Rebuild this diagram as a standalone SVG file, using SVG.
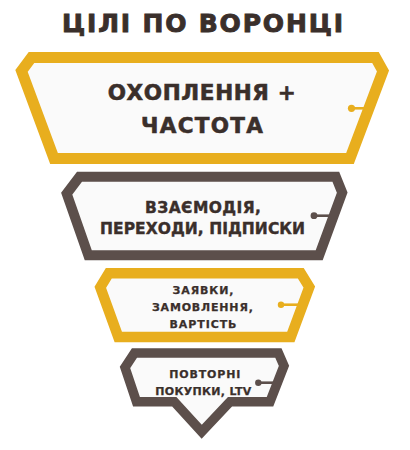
<svg xmlns="http://www.w3.org/2000/svg" width="410" height="450" viewBox="0 0 410 450">
<style>
.bg{fill:#ffffff}
.gold{fill:#fafafa;stroke:#E8AE1E;stroke-linejoin:miter;stroke-miterlimit:10}
.dark{fill:#fafafa;stroke:#5C4F4B;stroke-linejoin:miter;stroke-miterlimit:10}
.pin-g{stroke:#E8AE1E;stroke-width:2.6;fill:none}
.pin-d{stroke:#5C4F4B;stroke-width:2.6;fill:none}
.dot-g{fill:#E8AE1E}
.dot-d{fill:#5C4F4B}
.t{font-family:"DejaVu Sans","Noto Sans",sans-serif;font-weight:bold;fill:#3A2F2B;stroke:#3A2F2B;text-anchor:middle}
.h1{stroke-width:0.9}
.h2{stroke-width:0.6}
.h3{stroke-width:0.4}
.h4{stroke-width:0.25}
</style>
<rect class="bg" x="0" y="0" width="410" height="450"/>
<g id="title">
<text class="t h1" x="202.5" y="31.7" font-size="25" textLength="281" lengthAdjust="spacing">ЦІЛІ ПО ВОРОНЦІ</text>
</g>
<g id="node-1">
<polygon class="gold" stroke-width="11" points="31.5,57.5 375.5,57.5 383,71 350,158.5 54,158.5 21.5,71"/>
<line class="pin-g" x1="351.5" y1="108.3" x2="365" y2="108.3"/>
<circle class="dot-g" cx="351.5" cy="108.3" r="3.6"/>
<text class="t h2" x="201.7" y="100" font-size="21.5" textLength="188" lengthAdjust="spacing">ОХОПЛЕННЯ +</text>
<text class="t h2" x="202" y="132.5" font-size="21.5" textLength="122" lengthAdjust="spacing">ЧАСТОТА</text>
</g>
<g id="node-2">
<polygon class="dark" stroke-width="10" points="79.5,176.7 335.8,176.7 342.2,192.6 319.2,255.3 88.3,255.3 66.7,193.7"/>
<line class="pin-d" x1="314" y1="215.7" x2="331" y2="215.7"/>
<circle class="dot-d" cx="314" cy="215.7" r="3.4"/>
<text class="t h3" x="203" y="213.3" font-size="15.5" textLength="116" lengthAdjust="spacing">ВЗАЄМОДІЯ,</text>
<text class="t h3" x="202.5" y="233.5" font-size="15.5" textLength="205" lengthAdjust="spacing">ПЕРЕХОДИ, ПІДПИСКИ</text>
</g>
<g id="node-3">
<polygon class="gold" stroke-width="10.5" points="108.8,273.3 300.8,273.3 309.3,287 290.8,337 118.3,337 100.3,287.3"/>
<line class="pin-g" x1="281" y1="304.7" x2="299" y2="304.7"/>
<circle class="dot-g" cx="281" cy="304.7" r="3.2"/>
<text class="t h4" x="203" y="294" font-size="11" textLength="61" lengthAdjust="spacing">ЗАЯВКИ,</text>
<text class="t h4" x="202.4" y="311" font-size="11" textLength="101" lengthAdjust="spacing">ЗАМОВЛЕННЯ,</text>
<text class="t h4" x="203" y="328" font-size="11" textLength="67" lengthAdjust="spacing">ВАРТІСТЬ</text>
</g>
<g id="node-4">
<polygon class="dark" stroke-width="9.5" points="134.5,353 278.4,353 284,365.8 270,401.8 230,401.8 201.7,431.7 174.3,401.8 136.5,401.8 125,367.5"/>
<line class="pin-d" x1="258.3" y1="382.7" x2="274" y2="382.7"/>
<circle class="dot-d" cx="258.3" cy="382.7" r="3.2"/>
<text class="t h4" x="204.8" y="378" font-size="11" textLength="71" lengthAdjust="spacing">ПОВТОРНІ</text>
<text class="t h4" x="203.3" y="394.5" font-size="11" textLength="96" lengthAdjust="spacing">ПОКУПКИ, LTV</text>
</g>
<g id="connectors"></g>
</svg>
